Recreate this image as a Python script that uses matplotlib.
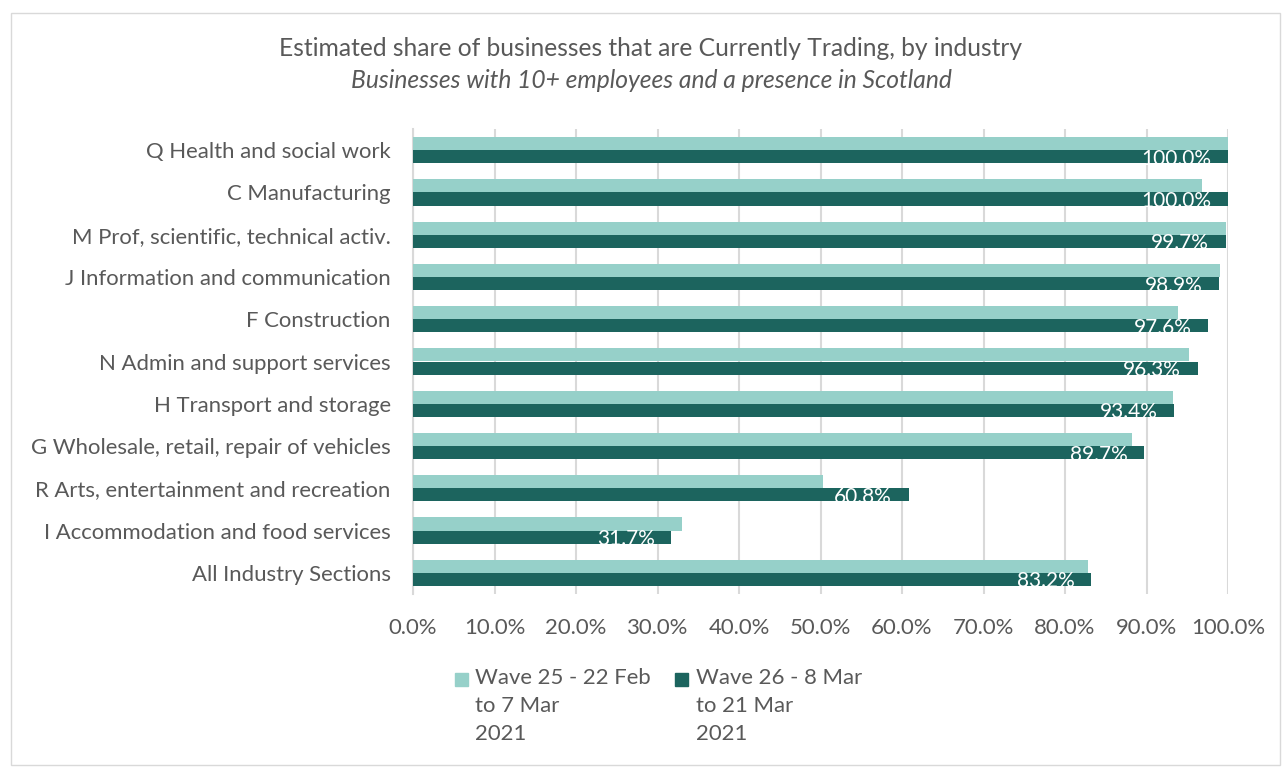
import matplotlib.pyplot as plt
import numpy as np
from matplotlib.patches import Rectangle

plt.rcParams['font.family'] = ['Lato', 'DejaVu Sans']

categories = [
    "Q Health and social work",
    "C Manufacturing",
    "M Prof, scientific, technical activ.",
    "J Information and communication",
    "F Construction",
    "N Admin and support services",
    "H Transport and storage",
    "G Wholesale, retail, repair of vehicles",
    "R Arts, entertainment and recreation",
    "I Accommodation and food services",
    "All Industry Sections",
]
wave25 = [100.0, 96.8, 99.7, 99.0, 93.9, 95.2, 93.2, 88.2, 50.3, 33.0, 82.8]
wave26 = [100.0, 100.0, 99.7, 98.9, 97.6, 96.3, 93.4, 89.7, 60.8, 31.7, 83.2]
labels = ["Wave 25 - 22 Feb\nto 7 Mar\n2021", "Wave 26 - 8 Mar\nto 21 Mar\n2021"]
xticks = np.arange(0, 101, 10)

LIGHT = "#96d0c9"
DARK = "#1c645e"
GREY = "#595959"
W, H = 1283, 767

fig = plt.figure(figsize=(W / 100, H / 100), dpi=100)
ax = fig.add_axes([413 / W, 1 - 594 / H, (1228 - 413) / W, (594 - 129) / H])

y = np.arange(len(categories))
h = 0.31
ax.barh(y - h / 2, wave25, height=h, color=LIGHT, zorder=3)
bars = ax.barh(y + h / 2, wave26, height=h, color=DARK, zorder=3)

for b, v in zip(bars, wave26):
    ax.annotate(f"{v:.1f}%", xy=(v, b.get_y() + b.get_height() / 2),
                xytext=(-12, -1.5), textcoords="offset points",
                ha="right", va="center", color="white", fontsize=15, zorder=4)

ax.set_ylim(len(categories) - 0.5, -0.5)
ax.set_xlim(0, 100)
ax.set_yticks(y)
ax.set_yticklabels(categories, fontsize=15.9, color=GREY)
ax.set_xticks(xticks)
ax.set_xticklabels([f"{t:.1f}%" for t in xticks], fontsize=15.9, color=GREY)
ax.tick_params(axis="y", length=0, pad=16)
ax.tick_params(axis="x", length=0, pad=17)
ax.grid(axis="x", color="#d9d9d9", linewidth=1.5, zorder=0)
for s in ["top", "right", "bottom"]:
    ax.spines[s].set_visible(False)
ax.spines["left"].set_color("#d9d9d9")
ax.spines["left"].set_linewidth(1.5)

fig.text(651 / W, 1 - 48 / H, "Estimated share of businesses that are Currently Trading, by industry",
         ha="center", va="center", fontsize=17.7, color=GREY)
fig.text(651 / W, 1 - 80 / H, "Businesses with 10+ employees and a presence in Scotland",
         ha="center", va="center", fontsize=17.7, color=GREY, style="italic")

# legend: square marker aligned with first line of each wrapped label
for (mx, tx), lab, col in zip([(455, 475), (675, 696)], labels, [LIGHT, DARK]):
    fig.patches.append(Rectangle((mx / W, 1 - 686 / H), 13 / W, 13 / H,
                                 transform=fig.transFigure, color=col))
    fig.text(tx / W, 1 - 668 / H, lab, ha="left", va="top", fontsize=15.9,
             color=GREY, linespacing=1.5)

fig.patches.append(Rectangle((11 / W, 2 / H), 1269 / W, 752 / H,
                             transform=fig.transFigure, fill=False,
                             edgecolor="#d9d9d9", linewidth=1))

fig.savefig("out.png", dpi=100)
